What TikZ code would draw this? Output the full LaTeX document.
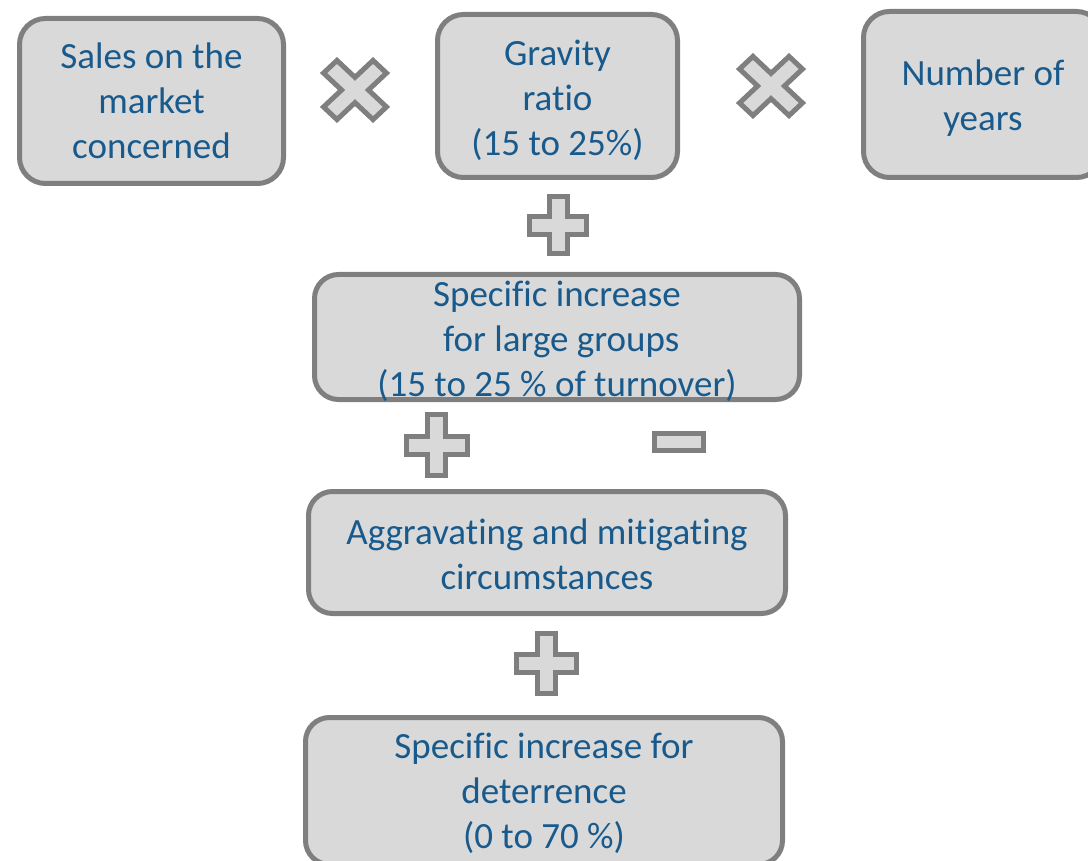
\documentclass[tikz,border=0pt]{standalone}
\usepackage{fontspec}
\setmainfont[Ligatures={NoCommon}]{Carlito}
\definecolor{boxgray}{HTML}{D9D9D9}
\definecolor{linegray}{HTML}{7F7F7F}
\definecolor{textblue}{HTML}{195A8C}
\tikzset{
  card/.style={draw=linegray, fill=boxgray, line width=5pt, rounded corners=26pt,
    inner sep=0pt},
  cardtext/.style={inner sep=0pt, align=center, text=textblue, yshift=-4pt,
    font=\fontsize{37}{45}\selectfont},
  sym/.style={draw=linegray, fill=boxgray, line width=5pt, line join=miter},
  pics/plusshape/.style 2 args={code={
    \path[sym] (#2,#2)--(#2,#1)--(-#2,#1)--(-#2,#2)--(-#1,#2)--(-#1,-#2)
      --(-#2,-#2)--(-#2,-#1)--(#2,-#1)--(#2,-#2)--(#1,-#2)--(#1,#2)--cycle;}}
}
\begin{document}
\begin{tikzpicture}[x=1pt,y=-1pt]
\useasboundingbox (0,0) rectangle (1088,861);
\clip (0,0) rectangle (1088,861);
\node[card, minimum width=264pt, minimum height=165pt,
  label={[cardtext, yshift=4pt]center:{Sales on the\\market\\concerned}}] (sales) at (151.5,101) {};
\node[card, minimum width=240pt, minimum height=163pt,
  label={[cardtext]center:{Gravity\\ratio\\(15 to 25\%)}}] (gravity) at (557.5,96) {};
\node[card, minimum width=239pt, minimum height=166pt,
  label={[cardtext]center:{Number of\\years}}] (years) at (983,94.5) {};
\node[card, minimum width=485pt, minimum height=125pt, rounded corners=24pt,
  label={[cardtext]center:{Specific increase\\\ for large groups\\(15 to 25 \% of turnover)}}] (large) at (557,337) {};
\node[card, minimum width=477pt, minimum height=122pt, rounded corners=24pt,
  label={[cardtext, yshift=2pt]center:{Aggravating and mitigating\\circumstances}}] (aggr) at (547,552.5) {};
\node[card, minimum width=477pt, minimum height=147pt, rounded corners=24pt,
  label={[cardtext, yshift=2pt]center:{Specific increase for\\deterrence\\(0 to 70 \%)}}] (deter) at (544,791) {};
% operators
\pic[yscale=0.94, rotate=45] (times1) at (355,90) {plusshape={35}{9.5}};
\pic[yscale=0.94, rotate=45] (times2) at (771,86) {plusshape={35}{9.5}};
\pic (plus1) at (558,225.5) {plusshape={28.5}{9}};
\pic (plus2) at (436.5,445) {plusshape={30.5}{9}};
\pic (plus3) at (546,663.5) {plusshape={30}{9}};
\path[sym] (654.5,433.5) rectangle (703.5,450.5);
\end{tikzpicture}
\end{document}
